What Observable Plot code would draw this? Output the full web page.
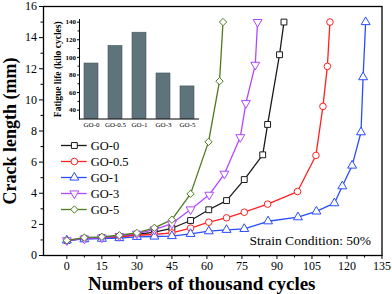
<!DOCTYPE html>
<html>
<head>
<meta charset="utf-8">
<script src="https://cdn.jsdelivr.net/npm/d3@7"></script>
<script src="https://cdn.jsdelivr.net/npm/@observablehq/plot@0.6"></script>
<style>
  body { margin: 0; background: white; }
  #wrap { position: relative; width: 392px; height: 294px; color: black; }
  #wrap svg, #wrap svg text { font-family: "Liberation Serif", "Times New Roman", Times, "DejaVu Serif", serif !important; }
</style>
</head>
<body>
<div id="wrap"></div>
<script>
// ---------- data ----------
const series = ["GO-0", "GO-0.5", "GO-1", "GO-3", "GO-5"];

const cyclesGO0  = [0, 7.5, 15, 22.5, 30, 37.5, 45, 53, 60.8, 68.4, 76, 83.9, 86, 91.1, 93];
const crackGO0   = [0.97, 1.08, 1.15, 1.22, 1.35, 1.5, 1.75, 2.25, 2.94, 3.53, 4.88, 6.47, 8.42, 12.9, 15];

const cyclesGO05 = [0, 7.5, 15, 22.5, 30, 37.5, 45, 53, 60.8, 68.4, 76, 86, 98.8, 106.7, 109.7, 111.6, 112.7];
const crackGO05  = [0.97, 1.08, 1.12, 1.2, 1.3, 1.35, 1.45, 1.76, 2.14, 2.42, 2.78, 3.3, 4.11, 6.43, 9.58, 12.15, 15];

const cyclesGO1  = [0, 7.5, 15, 22.5, 30, 37.5, 45, 53, 60.8, 68.4, 76, 86.2, 99, 106.9, 114.6, 118, 122.2, 126, 126.9, 128];
const crackGO1   = [0.97, 1.05, 1.08, 1.12, 1.2, 1.22, 1.25, 1.39, 1.56, 1.65, 1.71, 2.2, 2.46, 2.83, 3.36, 4.45, 5.78, 7.92, 11.46, 15];

const cyclesGO3  = [0, 7.5, 15, 22.5, 30, 37.5, 45, 53, 61, 67.5, 74.3, 76.7, 80.7, 81.7];
const crackGO3   = [0.97, 1.08, 1.15, 1.25, 1.4, 1.67, 2.05, 2.96, 3.9, 5.25, 7.6, 9.79, 12.25, 15];

const cyclesGO5  = [0, 7.5, 15, 22.5, 30, 37.5, 45, 53, 60.7, 65.4, 66.9];
const crackGO5   = [0.97, 1.15, 1.2, 1.3, 1.45, 1.78, 2.3, 3.96, 7.3, 11.2, 15];

const fatigueLife = [93, 113, 128, 81.7, 67];

const xTicks = [0, 15, 30, 45, 60, 75, 90, 105, 120, 135];
const yTicks = [0, 2, 4, 6, 8, 10, 12, 14, 16];
const insetTicks = [40, 60, 80, 100, 120, 140];

const xTitle = "Numbers of thousand cycles";
const yTitle = "Crack length (mm)";
const insetTitle = "Fatigue life (kilo cycles)";
const note = "Strain Condition: 50%";

// ---------- derived tables ----------
const cyclesAll = [cyclesGO0, cyclesGO05, cyclesGO1, cyclesGO3, cyclesGO5];
const crackAll = [crackGO0, crackGO05, crackGO1, crackGO3, crackGO5];
const rows = [];
series.forEach((s, i) => cyclesAll[i].forEach((c, j) => rows.push({series: s, cycles: c, crack: crackAll[i][j]})));
const bars = series.map((s, i) => ({name: s, life: fatigueLife[i]}));

// ---------- styling ----------
const colors = ["#1a1a1a", "#ff2020", "#2a4cff", "#b048ff", "#4e7a1e"];
const triangleDown = {
  draw(ctx, size) {
    const y = -Math.sqrt(size / (Math.sqrt(3) * 3));
    const s3 = Math.sqrt(3);
    ctx.moveTo(0, -y * 2);
    ctx.lineTo(-s3 * y, y);
    ctx.lineTo(s3 * y, y);
    ctx.closePath();
  }
};
const symbols = ["square", "circle", "triangle", triangleDown, "diamond2"];
const fontCss = "'Liberation Serif', 'Times New Roman', serif";

const wrap = document.getElementById("wrap");

// ---------- main chart ----------
const main = Plot.plot({
  width: 392, height: 294,
  marginLeft: 43, marginRight: 10.5, marginTop: 6, marginBottom: 39,
  x: {domain: [-10, 135]},
  y: {domain: [0, 16]},
  color: {domain: series, range: colors},
  symbol: {domain: series, range: symbols},
  style: `font-family: ${fontCss}; background: white; color: black;`,
  marks: [
    Plot.axisX(xTicks, {tickSize: 4, tickPadding: 2, fontSize: 12, label: null}),
    Plot.axisX(d3.range(7.5, 135, 15), {tickSize: 2.5, tickFormat: () => "", label: null}),
    Plot.axisY(yTicks, {tickSize: 4, tickPadding: 2.5, fontSize: 12, label: null}),
    Plot.axisY(d3.range(1, 16, 2), {tickSize: 2.5, tickFormat: () => "", label: null}),
    Plot.line(rows, {x: "cycles", y: "crack", z: "series", stroke: "series", strokeWidth: 1.3}),
    Plot.dot(rows, {x: "cycles", y: "crack", symbol: "series", stroke: "series", fill: "white", r: 3.3, strokeWidth: 1}),
    Plot.frame({stroke: "black", strokeWidth: 1.3}),
    Plot.text([xTitle], {text: d => d, frameAnchor: "bottom", dx: -11, dy: 28, textAnchor: "middle", lineAnchor: "middle", fontWeight: "bold", fontSize: 19}),
    Plot.text([yTitle], {text: d => d, frameAnchor: "left", rotate: -90, dx: -33, textAnchor: "middle", lineAnchor: "middle", fontWeight: "bold", fontSize: 18}),
    Plot.text([note], {text: d => d, frameAnchor: "bottom-right", dx: -11, dy: -15, textAnchor: "end", lineAnchor: "middle", fontSize: 13.5})
  ]
});
wrap.appendChild(main);

// ---------- legend ----------
const legend = Plot.plot({
  width: 100, height: 82, margin: 0,
  x: {domain: [0, 1], range: [6, 31.7], axis: null},
  y: {type: "point", domain: series, range: [8.7, 73], padding: 0, axis: null},
  color: {domain: series, range: colors},
  symbol: {domain: series, range: symbols},
  style: `font-family: ${fontCss}; background: transparent; color: black; overflow: visible; position: absolute; left: 55px; top: 136px;`,
  marks: [
    Plot.ruleY(series, {y: d => d, x1: 0, x2: 1, stroke: d => d, strokeWidth: 1.3}),
    Plot.dot(series, {x: 0.5, y: d => d, symbol: d => d, stroke: d => d, fill: "white", r: 3.3, strokeWidth: 1}),
    Plot.text(series, {x: 1, y: d => d, text: d => d, dx: 3.5, textAnchor: "start", fontSize: 12.5})
  ]
});
wrap.appendChild(legend);

// ---------- inset ----------
const inset = Plot.plot({
  width: 165, height: 125,
  marginLeft: 39, marginRight: 7, marginTop: 11, marginBottom: 14.5,
  x: {type: "band", domain: series, range: [38.5, 160], paddingInner: 0.4, paddingOuter: 0.2},
  y: {domain: [30, 143]},
  style: `font-family: ${fontCss}; background: transparent; color: black; overflow: visible; position: absolute; left: 40px; top: 8px;`,
  marks: [
    Plot.barY(bars, {x: "name", y1: 30, y2: "life", fill: "#5e737c", stroke: "#46565c", strokeWidth: 0.6}),
    Plot.frame({anchor: "left", stroke: "black"}),
    Plot.frame({anchor: "bottom", stroke: "black"}),
    Plot.axisY(insetTicks, {tickSize: 2, tickPadding: 1.5, fontSize: 7, fontWeight: "bold", label: null}),
    Plot.axisY(d3.range(50, 140, 20), {tickSize: 1.5, tickFormat: () => "", label: null}),
    Plot.axisX(series, {tickSize: 0, tickPadding: 3, fontSize: 7, label: null}),
    Plot.text([insetTitle], {text: d => d, frameAnchor: "left", rotate: -90, dx: -21.5, dy: 0, textAnchor: "middle", lineAnchor: "middle", fontWeight: "bold", fontSize: 9.5})
  ]
});
wrap.appendChild(inset);
</script>
</body>
</html>
